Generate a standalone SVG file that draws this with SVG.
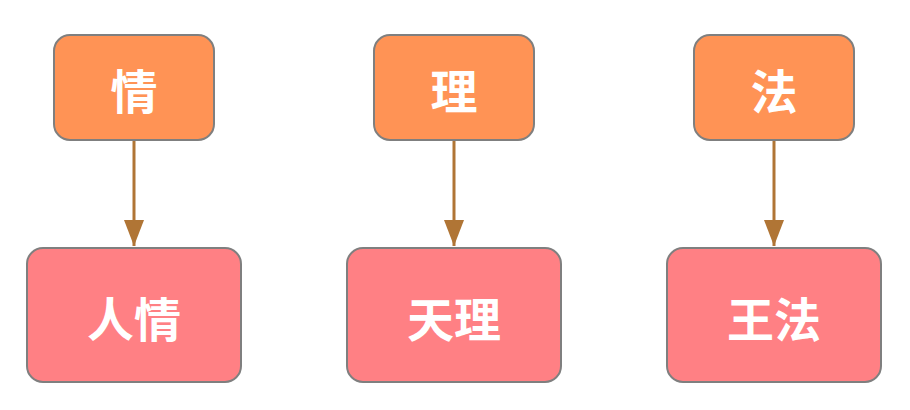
<svg xmlns="http://www.w3.org/2000/svg" width="910" height="410" viewBox="0 0 910 410">
<style>
.top{fill:#FF9355;stroke:#7F7F7F;stroke-width:2}
.bot{fill:#FF8084;stroke:#7F7F7F;stroke-width:2}
.lbl{font-family:"Noto Sans CJK SC","Noto Sans CJK JP",sans-serif;font-weight:bold;font-size:47px;fill:#FFFFFF;text-anchor:middle;dominant-baseline:central}
.edge{stroke:#B07535;stroke-width:3;fill:none;marker-end:url(#ah)}
</style>
<defs>
<marker id="ah" viewBox="0 0 26 20" refX="26" refY="10" markerWidth="26" markerHeight="20" markerUnits="userSpaceOnUse" orient="auto">
<path d="M0,0 L26,10 L0,20 Z" fill="#B07535"/>
</marker>
</defs>
<rect width="910" height="410" fill="#FFFFFF"/>
<g id="connectors">
<line class="edge" x1="134" y1="141" x2="134" y2="246"/>
<line class="edge" x1="454" y1="141" x2="454" y2="246"/>
<line class="edge" x1="774" y1="141" x2="774" y2="246"/>
</g>
<g id="n-qing">
<rect class="top" x="54" y="35" width="160" height="105" rx="16"/>
<text class="lbl" x="134" y="88">情</text>
</g>
<g id="n-li">
<rect class="top" x="374" y="35" width="160" height="105" rx="16"/>
<text class="lbl" x="454" y="88">理</text>
</g>
<g id="n-fa">
<rect class="top" x="694" y="35" width="160" height="105" rx="16"/>
<text class="lbl" x="774" y="88">法</text>
</g>
<g id="n-renqing">
<rect class="bot" x="27" y="248" width="214" height="134" rx="16"/>
<text class="lbl" x="134" y="316">人情</text>
</g>
<g id="n-tianli">
<rect class="bot" x="347" y="248" width="214" height="134" rx="16"/>
<text class="lbl" x="454" y="316">天理</text>
</g>
<g id="n-wangfa">
<rect class="bot" x="667" y="248" width="214" height="134" rx="16"/>
<text class="lbl" x="774" y="316">王法</text>
</g>
</svg>
